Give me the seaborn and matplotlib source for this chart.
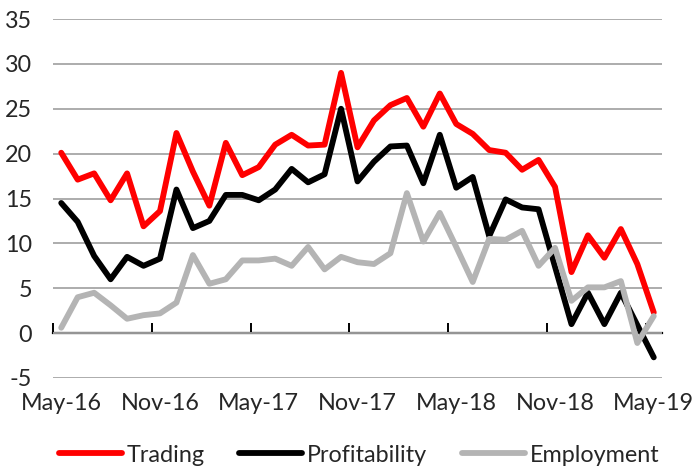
import matplotlib
matplotlib.use("Agg")
import matplotlib.pyplot as plt
import numpy as np
import pandas as pd
import seaborn as sns

# monthly survey balances, May-16 .. May-19
months = pd.date_range("2016-05-01", "2019-05-01", freq="MS")

trading = [20.1, 17.1, 17.8, 14.8, 17.8, 11.9, 13.6, 22.3, 18.0, 14.2,
           21.2, 17.6, 18.5, 21.0, 22.1, 20.9, 21.0, 29.0, 20.7, 23.7,
           25.4, 26.2, 23.0, 26.7, 23.3, 22.2, 20.4, 20.1, 18.2, 19.3,
           16.3, 6.8, 10.9, 8.4, 11.6, 7.7, 2.3]
profitability = [14.5, 12.4, 8.6, 6.0, 8.5, 7.5, 8.3, 16.0, 11.7, 12.5,
                 15.4, 15.4, 14.8, 16.0, 18.3, 16.8, 17.7, 25.0, 16.9, 19.1,
                 20.8, 20.9, 16.7, 22.1, 16.2, 17.4, 10.8, 14.9, 14.0, 13.8,
                 7.4, 1.0, 4.5, 1.0, 4.5, 0.9, -2.7]
employment = [0.6, 4.0, 4.5, 3.1, 1.6, 2.0, 2.2, 3.4, 8.7, 5.5,
              6.0, 8.1, 8.1, 8.3, 7.5, 9.6, 7.1, 8.5, 7.9, 7.7,
              8.9, 15.6, 10.2, 13.4, 9.6, 5.7, 10.5, 10.4, 11.4, 7.5,
              9.5, 3.6, 5.1, 5.1, 5.8, -1.1, 1.9]

series_names = ["Trading", "Profitability", "Employment"]
colors = {"Trading": "#ff0000", "Profitability": "#000000", "Employment": "#b4b4b4"}
yticks = [-5, 0, 5, 10, 15, 20, 25, 30, 35]

df = pd.DataFrame({"month": months, "Trading": trading,
                   "Profitability": profitability, "Employment": employment})
df["pos"] = np.arange(len(df))
long = df.melt(id_vars=["month", "pos"], value_vars=series_names,
               var_name="series", value_name="balance")

sns.set_theme(style="white")
plt.rcParams["font.family"] = ["Lato", "DejaVu Sans"]
plt.rcParams["axes.unicode_minus"] = False
FS = 16.8

fig = plt.figure(figsize=(6.97, 4.71), dpi=100)
ax = fig.add_axes([53 / 697, 1 - 378 / 471, 609 / 697, 359 / 471])

sns.lineplot(data=long, x="pos", y="balance", hue="series", hue_order=series_names,
             palette=colors, linewidth=4.2, ax=ax, legend=False)
handles = [plt.Line2D([], [], color=colors[s], linewidth=4.2, solid_capstyle="round") for s in series_names]

ax.set_xlim(-0.5, len(df) - 0.5)
ax.set_ylim(-5, 35)
ax.set_yticks(yticks)
ax.yaxis.grid(True, color="#a6a6a6", linewidth=1.3)
ax.set_axisbelow(True)
for side in ["top", "right", "left", "bottom"]:
    ax.spines[side].set_visible(False)

label_pos = df["pos"][::6]
ax.set_xticks(label_pos)
ax.set_xticklabels(df["month"][::6].dt.strftime("%b-%y"))
ax.tick_params(axis="x", length=0, pad=11, labelsize=FS)
ax.tick_params(axis="y", length=0, pad=15, labelsize=FS)
ax.set_xlabel("")
ax.set_ylabel("")

# zero line with tick marks between categories
zero = ax.secondary_xaxis(5 / 40)
zero.spines["bottom"].set_color("black")
zero.spines["bottom"].set_linewidth(1.6)
zero.set_xticks(np.arange(-0.5, len(df), 6))
zero.tick_params(axis="x", direction="in", length=7, width=1.4, color="black", labelbottom=False)

ax.legend(handles, series_names, loc="center", bbox_to_anchor=(0.515 * 697 / 609 - 53 / 609, (471 - 455 - 93) / 359),
          ncol=3, frameon=False, fontsize=FS, handlelength=2.7, handletextpad=0.2, columnspacing=1.5)

fig.savefig("out.png", dpi=100)
